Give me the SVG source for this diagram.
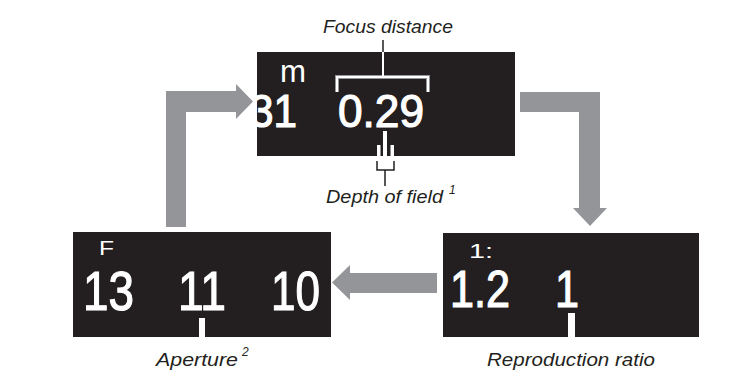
<svg xmlns="http://www.w3.org/2000/svg" width="753" height="381" viewBox="0 0 753 381">
<style>
.box{fill:#231f20}
.arr{fill:#939598}
.lcd{font-family:"Liberation Sans",Arial,sans-serif;fill:#fff;stroke:#fff;stroke-width:1.2}
.lcds{font-family:"Liberation Sans",Arial,sans-serif;fill:#fff}
.lbl{font-family:"Liberation Sans",Arial,sans-serif;font-style:italic;fill:#231f20;font-size:19px}
.sup{font-family:"Liberation Sans",Arial,sans-serif;font-style:italic;fill:#231f20;font-size:12px}
.ln{fill:none;stroke:#231f20;stroke-width:1.5}
</style>
<defs>
<clipPath id="clipTop"><rect x="257" y="52" width="258" height="104"/></clipPath>
</defs>
<rect width="753" height="381" fill="#fff"/>
<g id="connectors">
<polygon class="arr" points="166,227 166,91 236,91 236,84 253,101.5 236,119 236,112 186,112 186,227"/>
<polygon class="arr" points="520,92 600,92 600,208 607,208 590,226 573,208 579,208 579,112 520,112"/>
<polygon class="arr" points="437,273 437,293 350,293 350,300 332,282.5 350,265 350,273"/>
</g>
<g id="focus-display">
<rect class="box" x="257" y="52" width="258" height="104"/>
<g clip-path="url(#clipTop)">
<text class="lcds" x="280" y="82" font-size="32" textLength="26" lengthAdjust="spacingAndGlyphs">m</text>
<text class="lcd" x="250" y="127" font-size="47" textLength="47" lengthAdjust="spacingAndGlyphs">31</text>
<text class="lcd" x="338" y="127" font-size="47" textLength="86" lengthAdjust="spacingAndGlyphs">0.29</text>
</g>
<path d="M337,92 V77 H428 V92" fill="none" stroke="#939598" stroke-width="4"/>
<path d="M337,92 V77 H428 V92 M383,77 V52" fill="none" stroke="#fff" stroke-width="2"/>
<rect x="383" y="131" width="4" height="25" fill="#fff"/>
<rect x="377" y="145" width="3.5" height="11" fill="#fff"/>
<rect x="390.5" y="145" width="3.5" height="11" fill="#fff"/>
</g>
<g id="focus-labels">
<line class="ln" x1="383" y1="40" x2="383" y2="52"/>
<text class="lbl" x="388" y="33" text-anchor="middle" textLength="130" lengthAdjust="spacingAndGlyphs">Focus distance</text>
<path class="ln" d="M377,161 V170 H394 V161 M385,170 V186"/>
<text class="lbl" x="326" y="203" textLength="117" lengthAdjust="spacingAndGlyphs">Depth of field</text>
<text class="sup" x="449" y="194">1</text>
</g>
<g id="aperture-display">
<rect class="box" x="73" y="232" width="258" height="105"/>
<text class="lcds" x="99" y="255" font-size="21" textLength="15" lengthAdjust="spacingAndGlyphs">F</text>
<text class="lcd" x="83" y="310" font-size="56" textLength="51" lengthAdjust="spacingAndGlyphs">13</text>
<text class="lcd" x="178" y="310" font-size="56" textLength="48" lengthAdjust="spacingAndGlyphs">11</text>
<text class="lcd" x="271" y="310" font-size="56" textLength="49" lengthAdjust="spacingAndGlyphs">10</text>
<rect x="199" y="318" width="6" height="19" fill="#fff"/>
<text class="lbl" x="156" y="366" textLength="82" lengthAdjust="spacingAndGlyphs">Aperture</text>
<text class="sup" x="242" y="356">2</text>
</g>
<g id="ratio-display">
<rect class="box" x="443" y="233" width="256" height="104"/>
<text class="lcds" x="469" y="258" font-size="21" textLength="24" lengthAdjust="spacingAndGlyphs">1:</text>
<text class="lcd" x="450" y="307" font-size="52" textLength="60" lengthAdjust="spacingAndGlyphs">1.2</text>
<text class="lcd" x="555" y="307" font-size="52" textLength="24" lengthAdjust="spacingAndGlyphs">1</text>
<rect x="568" y="313" width="7" height="24" fill="#fff"/>
<text class="lbl" x="487" y="366" textLength="168" lengthAdjust="spacingAndGlyphs">Reproduction ratio</text>
</g>
</svg>
